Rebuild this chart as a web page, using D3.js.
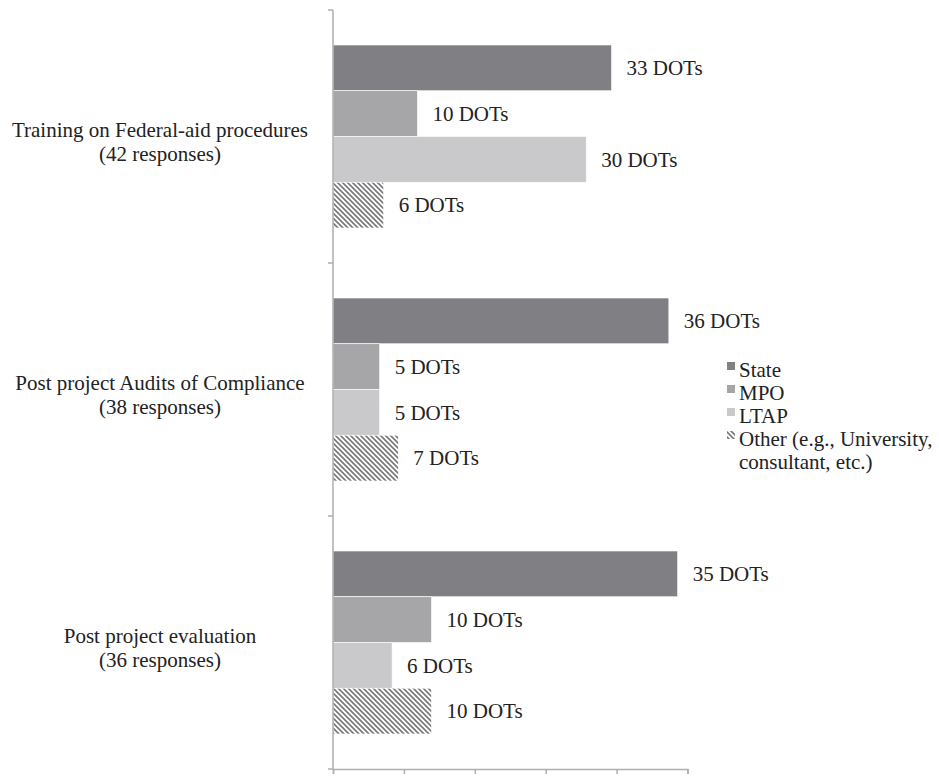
<!DOCTYPE html>
<html>
<head>
<meta charset="utf-8">
<script src="https://cdn.jsdelivr.net/npm/d3@7"></script>
<style>
  html, body { margin: 0; padding: 0; background: #fff; }
  svg { display: block; }
</style>
</head>
<body>
<svg id="chart" width="939" height="778"></svg>
<script>
// Survey topics and how many DOTs answered each
const categories = [
  "Training on Federal-aid procedures",
  "Post project Audits of Compliance",
  "Post project evaluation"
];
const responses = [42, 38, 36];

// Number of DOTs naming each provider, per topic
const seriesNames = ["State", "MPO", "LTAP", "Other"];
const stateDOTs = [33, 36, 35];
const mpoDOTs   = [10, 5, 10];
const ltapDOTs  = [30, 5, 6];
const otherDOTs = [6, 7, 10];

const legendLabels = ["State", "MPO", "LTAP", ["Other (e.g., University,", "consultant, etc.)"]];
const axisTicks = [0, 0.2, 0.4, 0.6, 0.8, 1.0];

const seriesValues = { State: stateDOTs, MPO: mpoDOTs, LTAP: ltapDOTs, Other: otherDOTs };

const FONT = "Liberation Serif";
const INK = "#222";

const svg = d3.select("#chart");

// hatch fill for the "Other" series
const defs = svg.append("defs");
const hatch = defs.append("pattern")
  .attr("id", "hatch")
  .attr("patternUnits", "userSpaceOnUse")
  .attr("width", 5).attr("height", 5);
hatch.append("rect").attr("width", 5).attr("height", 5).attr("fill", "#fff");
hatch.append("path")
  .attr("d", "M0,0 L5,5 M-1,4 L1,6 M4,-1 L6,1")
  .attr("stroke", "#7a7a7c").attr("stroke-width", 1.7);

const colors = { State: "#808084", MPO: "#a6a6a9", LTAP: "#c9c9cb", Other: "url(#hatch)" };

const x0 = 333, yTop = 10, yBottom = 769;

// bar length is the share of responding DOTs
const x = d3.scaleLinear().domain([0, 1]).range([x0, x0 + 354.5]);
const y = d3.scaleBand().domain(categories).range([yTop, yBottom]).padding(0);
const ySeries = d3.scaleBand().domain(seriesNames)
  .range([0, y.bandwidth()]).paddingInner(0).paddingOuter(0.765);

// bars
const rows = [];
categories.forEach((c, i) => {
  seriesNames.forEach(s => {
    rows.push({ cat: c, series: s, count: seriesValues[s][i], share: seriesValues[s][i] / responses[i] });
  });
});

const g = svg.append("g");
g.selectAll("rect.bar").data(rows).join("rect")
  .attr("class", "bar")
  .attr("x", x(0))
  .attr("y", d => y(d.cat) + ySeries(d.series))
  .attr("width", d => x(d.share) - x(0))
  .attr("height", ySeries.bandwidth())
  .attr("fill", d => colors[d.series])
  .attr("stroke", "#fff").attr("stroke-width", 0.6);

// value labels
g.selectAll("text.val").data(rows).join("text")
  .attr("class", "val")
  .attr("x", d => x(d.share) + 15)
  .attr("y", d => y(d.cat) + ySeries(d.series) + ySeries.bandwidth() / 2)
  .attr("dy", "0.35em")
  .attr("font-family", FONT).attr("fill", INK)
  .attr("font-size", 21)
  .text(d => `${d.count} DOTs`);

// horizontal axis (no labels)
const xAxis = d3.axisBottom(x).tickValues(axisTicks).tickSize(5).tickFormat("");
const xa = svg.append("g").attr("transform", `translate(0,${yBottom})`).call(xAxis);
xa.select(".domain").attr("stroke", "#aeaeb0").attr("stroke-width", 1.5);
xa.selectAll(".tick line").attr("stroke", "#aeaeb0").attr("stroke-width", 1.5);

// vertical axis with ticks between categories
const bounds = categories.map(c => y(c)).concat([yBottom]);
const ya = svg.append("g");
ya.append("line")
  .attr("x1", x0).attr("x2", x0).attr("y1", yTop).attr("y2", yBottom)
  .attr("stroke", "#aeaeb0").attr("stroke-width", 1.5);
ya.selectAll("line.tk").data(bounds).join("line")
  .attr("class", "tk")
  .attr("x1", x0 - 5).attr("x2", x0).attr("y1", d => d).attr("y2", d => d)
  .attr("stroke", "#aeaeb0").attr("stroke-width", 1.5);

// category labels
const catG = svg.append("g");
categories.forEach((c, i) => {
  const cy = y(c) + y.bandwidth() / 2;
  const t = catG.append("text").attr("text-anchor", "middle")
    .attr("font-family", FONT).attr("fill", INK).attr("font-size", 21);
  t.append("tspan").attr("x", 160).attr("y", cy).text(c);
  t.append("tspan").attr("x", 160).attr("y", cy + 24).text(`(${responses[i]} responses)`);
});

// legend
const legendBaselines = [377, 400, 423, 446];
const lg = svg.append("g");
seriesNames.forEach((s, i) => {
  const by = legendBaselines[i];
  lg.append("rect")
    .attr("x", 727).attr("y", by - 15).attr("width", 8).attr("height", 8)
    .attr("fill", colors[s]);
  const lab = legendLabels[i];
  const t = lg.append("text").attr("font-family", FONT).attr("fill", INK).attr("font-size", 21);
  if (Array.isArray(lab)) {
    lab.forEach((line, k) => {
      t.append("tspan").attr("x", 739).attr("y", by + k * 23).text(line);
    });
  } else {
    t.attr("x", 739).attr("y", by).text(lab);
  }
});
</script>
</body>
</html>
